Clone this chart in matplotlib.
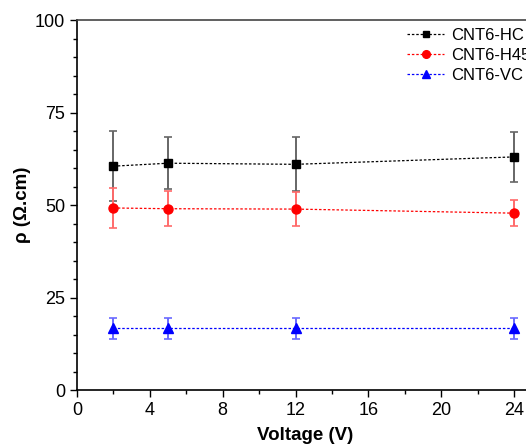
import numpy as np
import matplotlib
matplotlib.use('Agg')
import matplotlib.pyplot as plt
from matplotlib.ticker import MultipleLocator

plt.rcParams['font.family'] = ['Liberation Sans', 'DejaVu Sans']

voltage = [2, 5, 12, 24]
hc = [60.5, 61.3, 61.0, 63.0]
hc_err = [9.5, 7.0, 7.3, 6.7]
h45 = [49.2, 49.0, 48.9, 47.8]
h45_err = [5.3, 4.8, 4.5, 3.5]
vc = [16.7, 16.7, 16.7, 16.7]
vc_err = [2.8, 2.8, 2.8, 2.8]

series = [
    ('CNT6-HC', hc, hc_err, 'black', 's', 5.5, '#666666'),
    ('CNT6-H45', h45, h45_err, 'red', 'o', 6.5, '#ff6a6a'),
    ('CNT6-VC', vc, vc_err, 'blue', '^', 6.5, '#6a6aff'),
]

fig = plt.figure(figsize=(5.26, 4.47), dpi=100)
ax = fig.add_axes([0.1464, 0.1275, 0.8655, 0.8277])

for name, y, err, c, m, ms, ec in series:
    ax.errorbar(voltage, y, yerr=err, fmt='none', ecolor=ec, elinewidth=1.4,
                capsize=2.6, capthick=1.2, zorder=2)
    ax.plot(voltage, y, color=c, marker=m, markersize=ms, lw=0.9,
            linestyle=(0, (2, 1.5)), label=name, zorder=3)

ax.set_xlim(0, 25)
ax.set_ylim(0, 100)
ax.xaxis.set_major_locator(MultipleLocator(4))
ax.xaxis.set_minor_locator(MultipleLocator(2))
ax.yaxis.set_major_locator(MultipleLocator(25))
ax.yaxis.set_minor_locator(MultipleLocator(5))
ax.tick_params(which='both', direction='out', labelsize=13, width=1.0)
ax.tick_params(which='major', length=5)
ax.tick_params(which='minor', length=3)
for s in ax.spines.values():
    s.set_linewidth(1.2)
ax.spines['top'].set_color('#444444')

ax.set_xlabel('Voltage (V)', fontsize=13.5, fontweight='bold', labelpad=6)
ax.set_ylabel('ρ (Ω.cm)', fontsize=13.5, fontweight='bold', labelpad=3)

leg = ax.legend(loc='upper left', bbox_to_anchor=(0.70, 1.01), frameon=False,
                fontsize=12, handlelength=2.2, handletextpad=0.4,
                labelspacing=0.3, borderaxespad=0.3, markerscale=0.85)

fig.savefig('out.png', dpi=100)
